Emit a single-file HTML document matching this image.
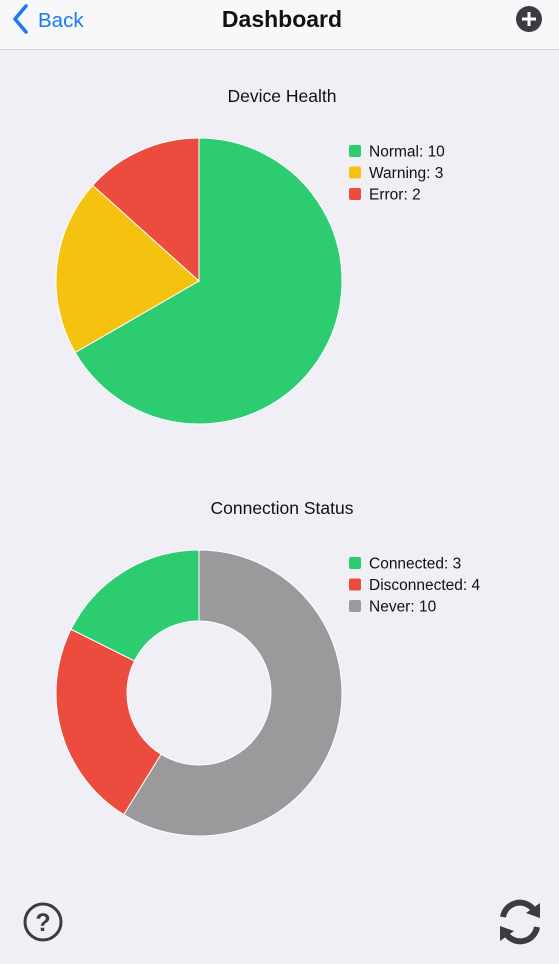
<!DOCTYPE html>
<html><head><meta charset="utf-8"><style>
body{margin:0;width:559px;height:964px;background:#f1eff6;font-family:"Liberation Sans",sans-serif;overflow:hidden;position:relative}
.hdr{position:absolute;left:0;top:0;width:559px;height:49px;background:#f8f7fa;border-bottom:1px solid #d6d5da}
</style></head><body>
<div class="hdr">
<svg width="559" height="49" style="position:absolute;left:0;top:0">
<g><polyline points="26,6 15,19 26,32" fill="none" stroke="#1a7cf0" stroke-width="3.6" stroke-linecap="round" stroke-linejoin="round"/>
<text x="38" y="27" font-size="20.5" fill="#1a7cf0" font-family="Liberation Sans">Back</text></g>
<text x="282" y="27" font-size="23" font-weight="bold" text-anchor="middle" fill="#111">Dashboard</text>
<g><circle cx="529" cy="19" r="13" fill="#3c3c40"/><path d="M529 12v14M522 19h14" stroke="#fff" stroke-width="3"/></g>
</svg></div>
<svg id="c" width="559" height="964" style="position:absolute;left:0;top:0"></svg>
<svg width="559" height="964" style="position:absolute;left:0;top:0;pointer-events:none">
<g><circle cx="43" cy="922" r="18" fill="none" stroke="#3c3c40" stroke-width="3"/>
<text x="43" y="931" font-size="25" font-weight="bold" text-anchor="middle" fill="#3c3c40">?</text></g>
<g fill="none" stroke="#3c3c40" stroke-width="6">
<path d="M503 917 A17 17 0 0 1 533 909"/><path d="M537 927 A17 17 0 0 1 507 935"/>
<polygon points="540,903 540,918 526,913" fill="#3c3c40" stroke="none"/><polygon points="500,941 500,926 514,931" fill="#3c3c40" stroke="none"/></g>
</svg>
<script>
const healthLabels=["Normal","Warning","Error"];
const healthValues=[10,3,2];
const healthColors=["#2ecc71","#f5c30f","#ec4c3e"];
const connLabels=["Connected","Disconnected","Never"];
const connValues=[3,4,10];
const connColors=["#2ecc71","#ec4c3e","#9a999c"];
const connDrawOrder=[2,1,0];
const NS="http://www.w3.org/2000/svg";
const svg=document.getElementById('c');
function mk(t,a){const e=document.createElementNS(NS,t);for(const k in a)e.setAttribute(k,a[k]);svg.appendChild(e);return e;}
function pt(cx,cy,r,a){return [cx+r*Math.sin(a),cy-r*Math.cos(a)];}
function chart(title,ty,cx,cy,R,ri,labels,values,colors,order,key){
 const t=mk('text',{x:282,y:ty,'font-size':17.5,'text-anchor':'middle',fill:'#111'});t.textContent=title;
 
 
 const tot=values.reduce((a,b)=>a+b,0);let a=0;
 order.forEach(i=>{const s=values[i]/tot*Math.PI*2;const e=a+s;const lg=s>Math.PI?1:0;
  const [x1,y1]=pt(cx,cy,R,a),[x2,y2]=pt(cx,cy,R,e);let d;
  if(ri>0){const [x3,y3]=pt(cx,cy,ri,e),[x4,y4]=pt(cx,cy,ri,a);
   d=`M${x1} ${y1}A${R} ${R} 0 ${lg} 1 ${x2} ${y2}L${x3} ${y3}A${ri} ${ri} 0 ${lg} 0 ${x4} ${y4}Z`;}
  else d=`M${cx} ${cy}L${x1} ${y1}A${R} ${R} 0 ${lg} 1 ${x2} ${y2}Z`;
  const p=mk('path',{d:d,fill:colors[i],stroke:'#fff','stroke-width':1});
  
  
  a=e;});
 labels.forEach((l,i)=>{const y=ty+49+i*21.5;
  const r=mk('rect',{x:349,y:y-6,width:12,height:12,rx:2,fill:colors[i]});
  
  
  const tx=mk('text',{x:369,y:y+5.5,'font-size':15.5,fill:'#111'});tx.textContent=l+': '+values[i];
  
  });
}
chart("Device Health",102,199,281,143,0,healthLabels,healthValues,healthColors,[0,1,2],'health');
chart("Connection Status",514,199,693,143,72,connLabels,connValues,connColors,connDrawOrder,'connection');
</script>
</body></html>
